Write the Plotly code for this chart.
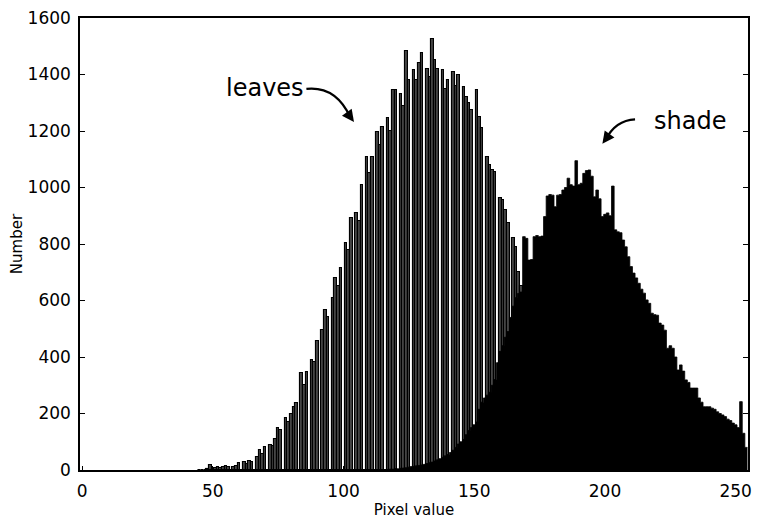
import plotly.graph_objects as go

# Histogram counts per pixel value
leaves_start = 45
leaves_counts = [
    0, 0, 0, 3, 18, 5, 8, 12, 6, 10,            # 45-54
    14, 9, 0, 12, 15, 25, 0, 28, 22, 32,        # 55-64
    30, 0, 47, 70, 55, 80, 0, 90, 85, 110,      # 65-74
    148, 140, 0, 184, 170, 200, 224, 238, 0, 343,   # 75-84
    300, 348, 0, 390, 383, 455, 0, 495, 566, 540,   # 85-94
    0, 609, 680, 650, 715, 0, 803, 780, 892, 0,     # 95-104
    909, 880, 1009, 0, 1109, 1050, 1109, 0, 1198, 1150,   # 105-114
    1215, 0, 1245, 1200, 1345, 1345, 0, 1330, 1290, 1484,  # 115-124
    1380, 0, 1416, 1380, 1440, 1477, 0, 1420, 1390, 1525,  # 125-134
    1450, 1420, 0, 1416, 1350, 1380, 0, 1410, 1360, 1400,  # 135-144
    0, 1357, 1320, 1300, 1274, 0, 1345, 1250, 1210, 0,     # 145-154
    1109, 1080, 1062, 1056, 0, 963, 956, 920, 874, 0,      # 155-164
    820, 790, 700, 650, 550, 420, 300, 200, 120, 60,       # 165-174
    30, 10,                                                # 175-176
]

shade_start = 118
shade_counts = [
    3, 3, 5, 4, 6, 7, 8, 10, 12, 13,            # 118-127
    15, 16, 18, 20, 23, 26, 28, 32, 36, 40,     # 128-137
    45, 50, 55, 62, 70, 80, 92, 100, 108, 125,  # 138-147
    140, 150, 160, 170, 215, 240, 255, 265, 275, 300,   # 148-157
    320, 380, 420, 440, 470, 490, 540, 580, 610, 625,   # 158-167
    630, 826, 820, 743, 745, 826, 830, 826, 828, 897,   # 168-177
    970, 975, 973, 932, 973, 975, 991, 1000, 1033, 1010,  # 178-187
    1005, 1095, 1010, 1015, 1050, 1060, 1062, 1040, 967, 991,  # 188-197
    960, 897, 905, 910, 900, 1005, 850, 843, 840, 814,  # 198-207
    790, 755, 720, 697, 680, 661, 640, 626, 602, 590,   # 208-217
    555, 550, 548, 520, 513, 495, 431, 440, 431, 400,   # 218-227
    354, 372, 350, 319, 310, 290, 290, 290, 255, 240,   # 228-237
    224, 224, 224, 219, 215, 206, 200, 195, 189, 180,   # 238-247
    175, 166, 160, 150, 242, 130, 80,                   # 248-254
]

leaves_x = list(range(leaves_start, leaves_start + len(leaves_counts)))
shade_x = list(range(shade_start, shade_start + len(shade_counts)))

# the shade histogram is drawn as a filled step outline over bin edges
shade_edges = [b - 0.5 for b in shade_x] + [shade_x[-1] + 0.5]
shade_steps = shade_counts + [shade_counts[-1]]

x_ticks = [0, 50, 100, 150, 200, 250]
y_ticks = [0, 200, 400, 600, 800, 1000, 1200, 1400, 1600]

FONT = "DejaVu Sans"

fig = go.Figure()
fig.add_trace(go.Bar(
    x=leaves_x, y=leaves_counts, width=1.0, name="leaves",
    marker=dict(color="#454545", line=dict(color="black", width=1.1)),
))
fig.add_trace(go.Scatter(
    x=shade_edges, y=shade_steps, name="shade", mode="lines",
    line=dict(shape="hv", color="black", width=0.8),
    fill="tozeroy", fillcolor="black",
))

# curved pointers from the labels to the two distributions
fig.add_shape(type="path", xref="x", yref="y",
              path="M 85.8,1349 Q 97,1360 102.5,1250",
              line=dict(color="black", width=2.2))
fig.add_shape(type="path", xref="x", yref="y",
              path="M 211.5,1241 Q 204,1238 200.2,1168",
              line=dict(color="black", width=2.2))

fig.add_annotation(x=104.0, y=1232, ax=101.6, ay=1262, axref="x", ayref="y",
                   xref="x", yref="y", text="", showarrow=True,
                   arrowhead=2, arrowsize=1.1, arrowwidth=2.2, arrowcolor="black")
fig.add_annotation(x=199.0, y=1155, ax=201.0, ay=1180, axref="x", ayref="y",
                   xref="x", yref="y", text="", showarrow=True,
                   arrowhead=2, arrowsize=1.1, arrowwidth=2.2, arrowcolor="black")

fig.add_annotation(x=70.0, y=1352, xref="x", yref="y", text="leaves",
                   showarrow=False, font=dict(family=FONT, size=24, color="black"))
fig.add_annotation(x=232.5, y=1236, xref="x", yref="y", text="shade",
                   showarrow=False, font=dict(family=FONT, size=24, color="black"))

fig.update_layout(
    width=760, height=527,
    margin=dict(l=80, r=8, t=18, b=57),
    paper_bgcolor="white", plot_bgcolor="white",
    barmode="overlay", bargap=0, showlegend=False,
    font=dict(family=FONT, size=17, color="black"),
)
fig.update_xaxes(
    range=[-0.8, 254.7], tickvals=x_ticks, ticktext=[str(v) for v in x_ticks],
    showgrid=False, zeroline=False, showline=True, linecolor="black", linewidth=1.5,
    mirror=True, ticks="inside", ticklen=4, tickcolor="black",
    ticklabelstandoff=5,
    title=dict(text="Pixel value", font=dict(family=FONT, size=15), standoff=4),
)
fig.update_yaxes(
    range=[0, 1600], tickvals=y_ticks, ticktext=[str(v) for v in y_ticks],
    showgrid=False, zeroline=False, showline=True, linecolor="black", linewidth=1.5,
    mirror="ticks", ticks="inside", ticklen=5, tickcolor="black",
    ticklabelstandoff=4,
    title=dict(text="Number", font=dict(family=FONT, size=15), standoff=1),
)

fig.write_html("out.html")
